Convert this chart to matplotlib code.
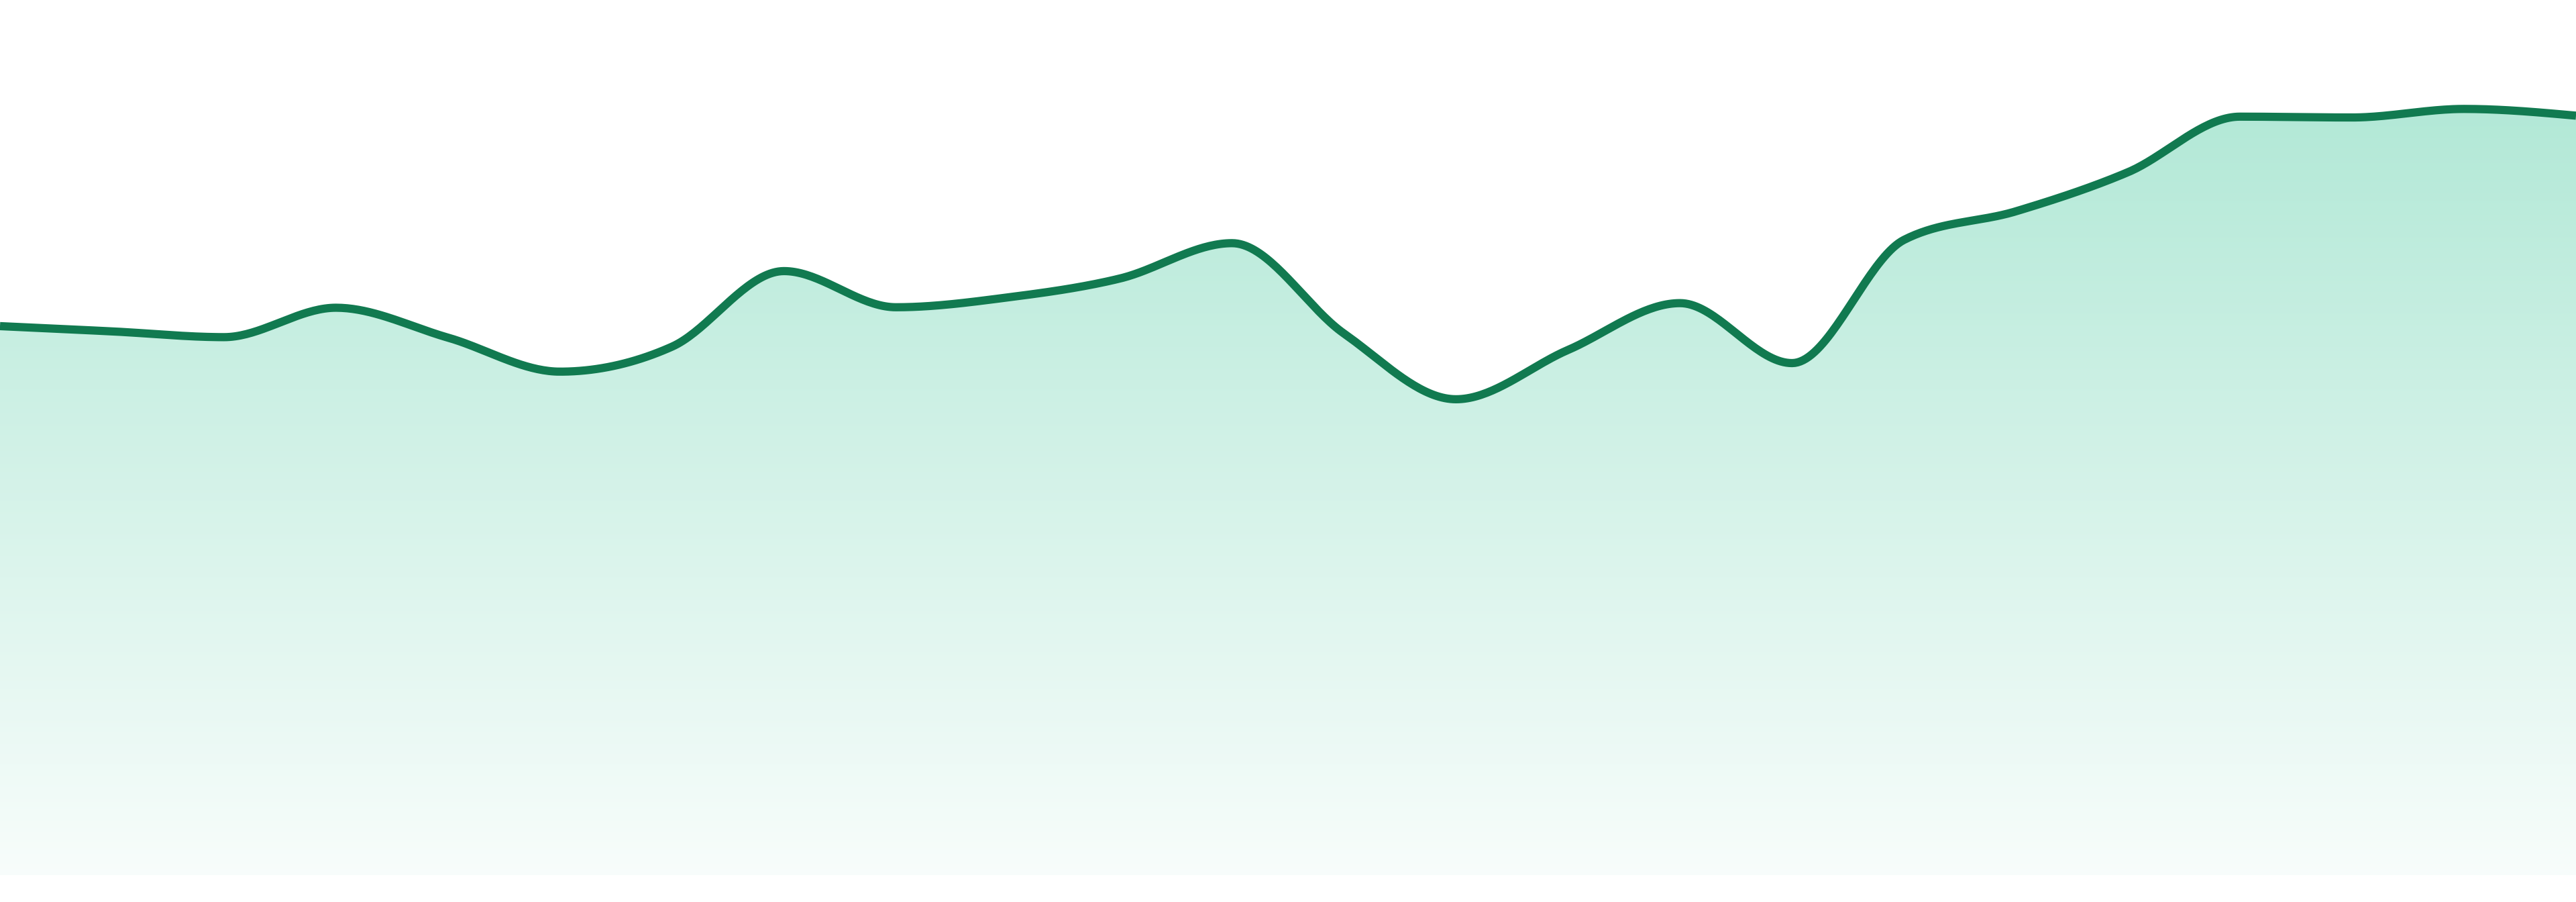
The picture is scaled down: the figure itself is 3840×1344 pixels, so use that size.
import numpy as np
import matplotlib
matplotlib.use('Agg')
import matplotlib.pyplot as plt
from matplotlib.patches import Polygon
from matplotlib.colors import to_rgb

# values (arbitrary units, baseline = 0)
days = list(range(24))
values = [334.2, 331.0, 327.5, 345.4, 327.2, 306.5, 321.7, 367.7,
          345.7, 351.7, 363.2, 384.7, 329.7, 289.7, 319.7, 348.2,
          311.7, 386.7, 404.1, 427.9, 461.7, 461.2, 466.4, 462.3]

line_color = '#117a50'
fill_color = '#10b981'


def monotone_x(x, y, n=40):
    # same idea as d3.curveMonotoneX
    x = np.asarray(x, float)
    y = np.asarray(y, float)
    h = np.diff(x)
    s = np.diff(y) / h
    t = np.zeros(len(x))
    for i in range(1, len(x) - 1):
        p = (s[i - 1] * h[i] + s[i] * h[i - 1]) / (h[i - 1] + h[i])
        t[i] = (np.sign(s[i - 1]) + np.sign(s[i])) * min(abs(s[i - 1]), abs(s[i]), 0.5 * abs(p))
    t[0] = (3 * s[0] - t[1]) / 2
    t[-1] = (3 * s[-1] - t[-2]) / 2
    xs, ys = [], []
    for i in range(len(x) - 1):
        u = np.linspace(0, 1, n, endpoint=False)
        dx = h[i] / 3
        p0 = (x[i], y[i])
        p1 = (x[i] + dx, y[i] + dx * t[i])
        p2 = (x[i + 1] - dx, y[i + 1] - dx * t[i + 1])
        p3 = (x[i + 1], y[i + 1])
        b = [(1 - u) ** 3, 3 * u * (1 - u) ** 2, 3 * u ** 2 * (1 - u), u ** 3]
        xs.append(b[0] * p0[0] + b[1] * p1[0] + b[2] * p2[0] + b[3] * p3[0])
        ys.append(b[0] * p0[1] + b[1] * p1[1] + b[2] * p2[1] + b[3] * p3[1])
    xs.append([x[-1]])
    ys.append([y[-1]])
    return np.concatenate(xs), np.concatenate(ys)


fig = plt.figure(figsize=(38.4, 13.44), dpi=100)
ax = fig.add_axes([0, 0, 1, 1])
ax.set_xlim(0, 23)
ax.set_ylim(-16.3, 532.7)
ax.axis('off')

cx, cy = monotone_x(days, values)

# gradient fill clipped to the area under the curve
top = max(values)
alpha = np.linspace(0.03, 0.32, 256)[:, None]
rgb = np.array(to_rgb(fill_color))
img = np.ones((256, 1, 3)) * (1 - alpha[..., None]) + rgb * alpha[..., None]
im = ax.imshow(img, extent=[0, 23, 0, top], origin='lower', aspect='auto',
               interpolation='bilinear', zorder=1)
poly = Polygon(np.column_stack([np.r_[cx, 23, 0], np.r_[cy, 0, 0]]),
               closed=True, facecolor='none', edgecolor='none')
ax.add_patch(poly)
im.set_clip_path(poly)

ax.plot(cx, cy, color=line_color, lw=8.8, solid_capstyle='butt',
        solid_joinstyle='round', zorder=3)

fig.savefig('out.png', dpi=100, facecolor='white')
